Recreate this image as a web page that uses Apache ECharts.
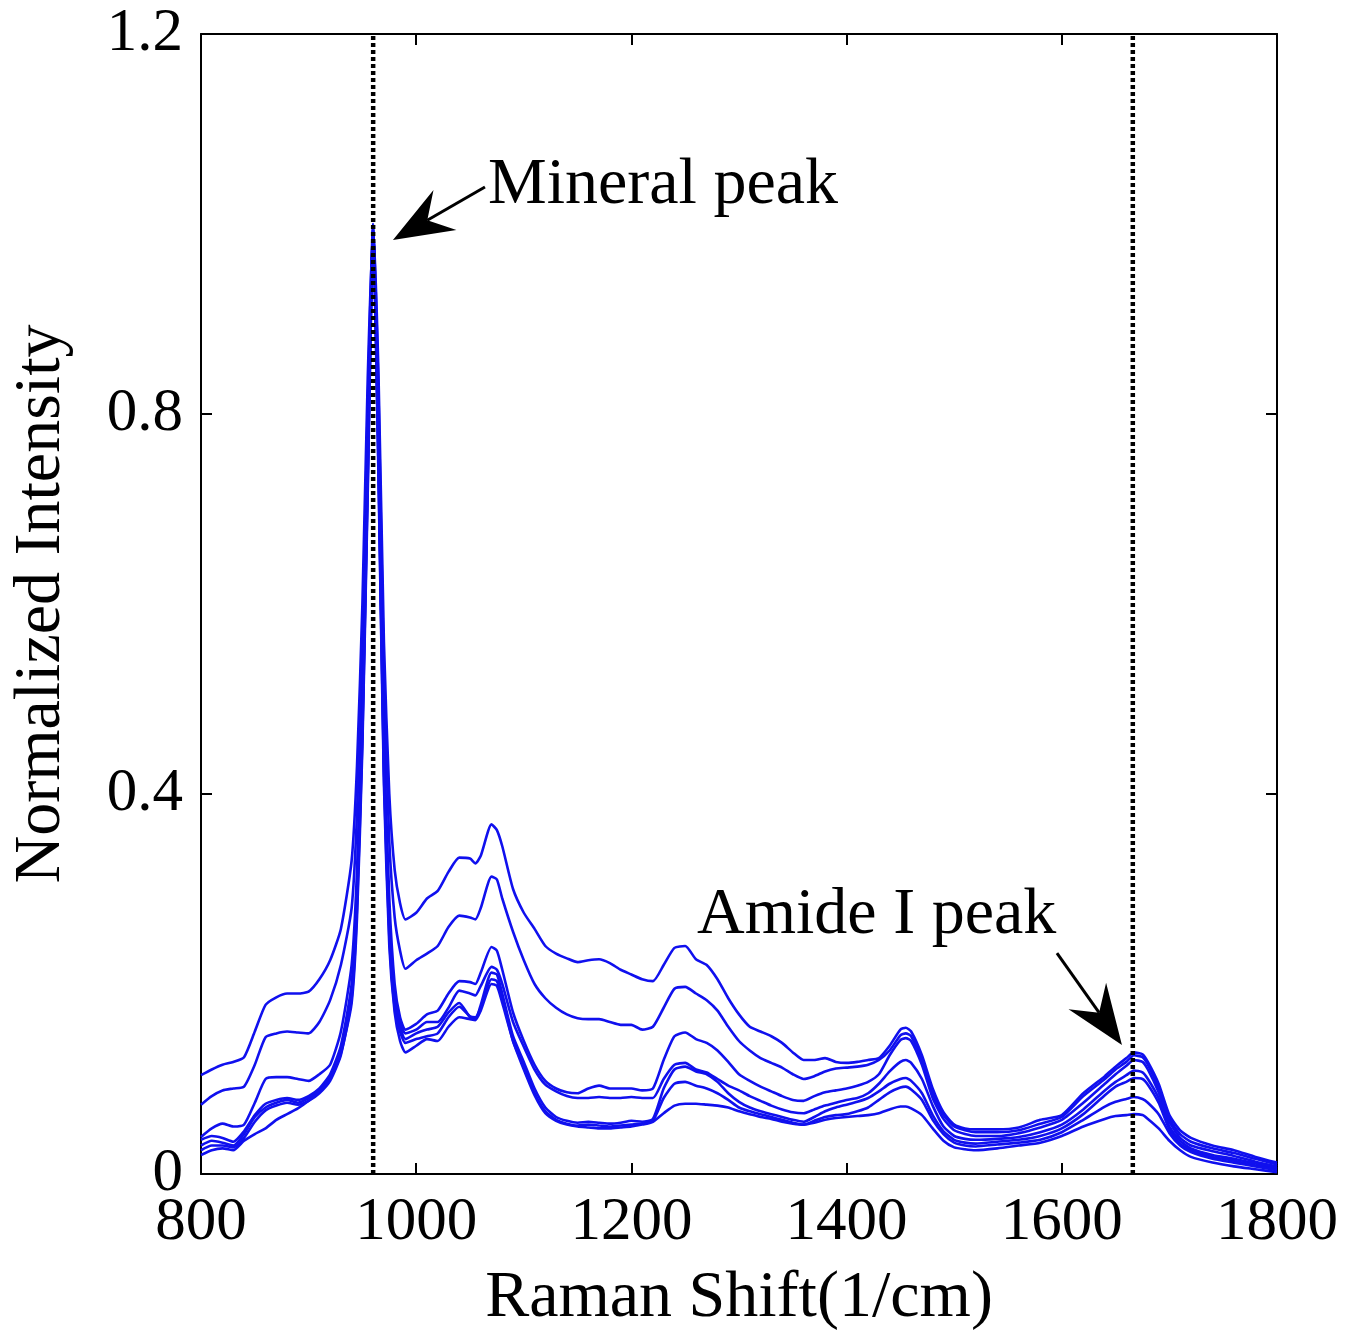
<!DOCTYPE html>
<html>
<head>
<meta charset="utf-8">
<script src="https://cdn.jsdelivr.net/npm/echarts@6/dist/echarts.min.js"></script>
<style>
html,body{margin:0;padding:0;background:#fff;}
#chart{width:1361px;height:1341px;}
</style>
</head>
<body>
<div id="chart"></div>
<script>
// Raman shift grid (1/cm)
const ramanShift = [800,810,820,830,840,850,860,870,880,890,900,910,920,930,940,945,950,955,960,965,970,975,980,985,990,1000,1010,1020,1030,1040,1050,1055,1060,1070,1075,1080,1090,1100,1110,1120,1130,1140,1150,1160,1170,1180,1190,1200,1210,1220,1230,1240,1250,1260,1270,1280,1290,1300,1310,1320,1330,1340,1350,1360,1370,1380,1390,1400,1410,1420,1430,1440,1450,1455,1460,1470,1480,1490,1500,1510,1520,1540,1560,1580,1600,1620,1640,1650,1660,1667,1675,1680,1690,1700,1710,1720,1740,1760,1780,1800];

const spectrum1 = [
0.104,0.110,0.115,0.118,0.123,0.150,0.178,0.186,0.190,0.190,0.192,0.205,0.225,0.258,0.330,
0.430,0.600,0.840,1.000,0.840,0.560,0.400,0.320,0.285,0.268,
0.275,0.290,0.298,0.318,0.333,0.332,
0.327,
0.335,0.368,
0.362,
0.345,0.300,0.275,0.258,0.240,0.232,0.227,0.223,0.225,0.226,
0.222,0.215,0.210,0.205,0.203,0.220,0.238,0.240,0.226,0.220,
0.205,0.185,0.168,0.155,0.150,0.145,0.138,0.128,0.120,0.120,
0.122,0.118,0.117,0.118,0.120,0.122,0.135,0.152,
0.154,
0.150,0.125,0.090,0.065,0.052,0.048,0.047,
0.047,0.049,0.057,0.062,0.085,0.103,
0.113,0.122,
0.128,
0.126,
0.118,0.095,0.062,0.046,0.038,
0.030,0.025,0.018,0.012];

const spectrum2 = [
0.073,0.082,0.088,0.090,0.092,0.115,0.144,0.148,0.150,0.149,0.148,0.160,0.183,0.220,0.280,
0.380,0.560,0.810,1.000,0.820,0.520,0.350,0.270,0.235,0.216,
0.225,0.232,0.240,0.260,0.272,0.270,
0.268,
0.280,0.313,
0.310,
0.290,0.255,0.225,0.200,0.185,0.175,0.168,0.164,0.163,0.163,
0.160,0.157,0.157,0.152,0.155,0.175,0.195,0.197,0.190,0.183,
0.172,0.155,0.140,0.130,0.122,0.117,0.112,0.105,0.100,0.103,
0.108,0.111,0.112,0.113,0.115,0.120,0.130,0.146,
0.148,
0.145,0.120,0.085,0.062,0.050,0.046,0.044,
0.044,0.046,0.053,0.060,0.082,0.100,
0.110,0.118,
0.125,
0.123,
0.115,0.090,0.058,0.042,0.034,
0.027,0.022,0.016,0.010];

const spectrum3 = [
0.039,0.048,0.053,0.050,0.052,0.075,0.100,0.102,0.102,0.100,0.098,0.105,0.115,0.150,0.220,
0.320,0.500,0.770,0.995,0.780,0.460,0.290,0.200,0.165,0.152,
0.158,0.168,0.172,0.190,0.203,0.202,
0.200,
0.212,0.239,
0.235,
0.215,0.170,0.140,0.115,0.098,0.090,0.086,0.085,0.090,0.093,
0.090,0.090,0.090,0.088,0.090,0.120,0.145,0.149,0.142,0.138,
0.130,0.118,0.105,0.098,0.092,0.087,0.082,0.078,0.077,0.082,
0.086,0.088,0.090,0.093,0.097,0.105,0.125,0.141,
0.143,
0.140,0.115,0.080,0.058,0.046,0.042,0.040,
0.040,0.043,0.049,0.057,0.075,0.095,
0.105,0.114,
0.120,
0.118,
0.110,0.086,0.055,0.038,0.030,
0.024,0.019,0.013,0.008];

const spectrum4 = [
0.036,0.040,0.038,0.034,0.045,0.062,0.074,0.078,0.080,0.078,0.082,0.090,0.105,0.135,0.200,
0.300,0.480,0.750,0.995,0.760,0.440,0.270,0.190,0.160,0.148,
0.152,0.160,0.160,0.175,0.193,0.190,
0.188,
0.198,0.218,
0.215,
0.200,0.160,0.134,0.110,0.094,0.087,0.082,0.080,0.080,0.081,
0.080,0.080,0.081,0.080,0.080,0.100,0.115,0.117,0.110,0.107,
0.100,0.093,0.088,0.082,0.077,0.072,0.068,0.065,0.064,0.068,
0.072,0.075,0.078,0.080,0.085,0.095,0.108,0.118,
0.120,
0.117,0.100,0.072,0.050,0.040,0.037,0.036,
0.037,0.039,0.044,0.052,0.068,0.088,
0.097,0.104,
0.109,
0.107,
0.100,0.080,0.050,0.035,0.027,
0.020,0.016,0.011,0.006];

const spectrum5 = [
0.030,0.035,0.033,0.030,0.042,0.060,0.070,0.075,0.078,0.075,0.080,0.088,0.102,0.130,0.190,
0.290,0.470,0.740,0.990,0.750,0.430,0.260,0.180,0.155,0.142,
0.148,0.152,0.155,0.170,0.180,0.165,
0.163,
0.178,0.212,
0.210,
0.190,0.145,0.118,0.090,0.070,0.060,0.056,0.054,0.055,0.054,
0.053,0.054,0.056,0.055,0.058,0.090,0.110,0.113,0.108,0.105,
0.097,0.085,0.076,0.070,0.066,0.063,0.060,0.057,0.055,0.060,
0.066,0.070,0.073,0.076,0.080,0.087,0.095,0.100,
0.101,
0.098,0.085,0.062,0.045,0.036,0.033,0.032,
0.034,0.036,0.040,0.048,0.063,0.083,
0.092,0.097,
0.101,
0.100,
0.094,0.075,0.047,0.032,0.025,
0.018,0.014,0.009,0.005];

const spectrum6 = [
0.025,0.030,0.030,0.028,0.038,0.055,0.067,0.072,0.075,0.073,0.077,0.085,0.098,0.125,0.185,
0.280,0.460,0.730,0.990,0.740,0.420,0.250,0.175,0.150,0.138,
0.142,0.145,0.148,0.165,0.176,0.166,
0.165,
0.175,0.205,
0.203,
0.185,0.140,0.113,0.085,0.066,0.057,0.053,0.051,0.052,0.051,
0.050,0.051,0.052,0.053,0.056,0.080,0.095,0.097,0.093,0.090,
0.085,0.078,0.070,0.066,0.063,0.060,0.057,0.054,0.052,0.056,
0.060,0.062,0.063,0.066,0.070,0.078,0.086,0.091,
0.092,
0.089,0.078,0.057,0.042,0.033,0.030,0.029,
0.031,0.033,0.036,0.044,0.057,0.071,
0.076,0.079,
0.081,
0.079,
0.075,0.063,0.043,0.030,0.023,
0.016,0.012,0.008,0.004];

const spectrum7 = [
0.020,0.025,0.027,0.025,0.035,0.042,0.048,0.057,0.063,0.069,0.077,0.087,0.100,0.127,0.180,
0.270,0.450,0.720,0.990,0.730,0.410,0.240,0.170,0.140,0.128,
0.135,0.142,0.140,0.155,0.165,0.163,
0.162,
0.172,0.200,
0.198,
0.180,0.140,0.110,0.083,0.064,0.056,0.052,0.050,0.049,0.048,
0.048,0.049,0.050,0.052,0.055,0.064,0.072,0.074,0.074,0.073,
0.072,0.070,0.066,0.063,0.060,0.058,0.055,0.053,0.052,0.054,
0.057,0.059,0.060,0.061,0.062,0.064,0.068,0.071,
0.071,
0.069,0.062,0.048,0.035,0.028,0.026,0.025,
0.027,0.030,0.033,0.040,0.050,0.058,
0.061,0.062,
0.063,
0.062,
0.058,0.048,0.035,0.025,0.018,
0.012,0.008,0.005,0.002];

const spectra = [spectrum1, spectrum2, spectrum3, spectrum4, spectrum5, spectrum6, spectrum7];

// Reference peak positions (dotted lines)
const peakMarkers = [960, 1666];

// X and Y ticks
const xTicks = {min: 800, max: 1800, interval: 200};
const yTicks = {min: 0, max: 1.2, interval: 0.4};

// Annotations (data coordinates)
const annotationTexts = ['Mineral peak', 'Amide I peak'];
const annotationTextAt = [[1066.7, 1.040], [1261, 0.2716]];
const arrowTails = [[1063.9, 1.0389], [1595.5, 0.2326]];
const arrowTips = [[978.4, 0.9832], [1655.9, 0.1358]];

const SERIF = '"Liberation Serif", "Times New Roman", serif';
const BLUE = '#1010ee';

const chart = echarts.init(document.getElementById('chart'), null, {renderer: 'canvas'});

const series = spectra.map((s, k) => ({
  type: 'line',
  name: 'spectrum' + (k + 1),
  data: ramanShift.map((x, i) => [x, s[i]]),
  symbol: 'none',
  smooth: 0.2,
  lineStyle: {color: BLUE, width: 2.6},
  z: 2,
  silent: true
}));

peakMarkers.forEach(m => {
  series.push({
    type: 'line',
    data: [[m, yTicks.min], [m, yTicks.max]],
    symbol: 'none',
    lineStyle: {color: '#000', width: 4.5, type: [4, 3]},
    z: 5,
    silent: true
  });
});

const axisCommon = {
  type: 'value',
  axisLine: {show: true, onZero: false, lineStyle: {color: '#000', width: 2}},
  axisTick: {show: true, inside: true, length: 11, lineStyle: {color: '#000', width: 2}},
  splitLine: {show: false}
};

chart.setOption({
  animation: false,
  backgroundColor: '#fff',
  grid: {left: 201, right: 84, top: 34, bottom: 167, containLabel: false},
  xAxis: [
    Object.assign({}, axisCommon, {
      position: 'bottom', min: xTicks.min, max: xTicks.max, interval: xTicks.interval,
      axisLabel: {fontFamily: SERIF, fontSize: 61, color: '#000', margin: 18, formatter: v => String(v)},
      name: 'Raman Shift(1/cm)', nameLocation: 'middle', nameGap: 92,
      nameTextStyle: {fontFamily: SERIF, fontSize: 66, color: '#000'}
    }),
    Object.assign({}, axisCommon, {
      position: 'top', min: xTicks.min, max: xTicks.max, interval: xTicks.interval,
      axisLabel: {show: false}
    })
  ],
  yAxis: [
    Object.assign({}, axisCommon, {
      position: 'left', min: yTicks.min, max: yTicks.max, interval: yTicks.interval,
      axisLabel: {fontFamily: SERIF, fontSize: 61, color: '#000', margin: 18, formatter: v => String(+v.toFixed(1))},
      name: 'Normalized Intensity', nameLocation: 'middle', nameGap: 126, nameRotate: 90,
      nameTextStyle: {fontFamily: SERIF, fontSize: 66, color: '#000'}
    }),
    Object.assign({}, axisCommon, {
      position: 'right', min: yTicks.min, max: yTicks.max, interval: yTicks.interval,
      axisLabel: {show: false}
    })
  ],
  series: series
});

function px(pt) { return chart.convertToPixel({xAxisIndex: 0, yAxisIndex: 0}, pt); }

const graphics = [];
annotationTexts.forEach((t, i) => {
  const p = px(annotationTextAt[i]);
  graphics.push({
    type: 'text', x: p[0], y: p[1], z: 10,
    style: {text: t, font: '66px ' + SERIF, fill: '#000', textAlign: 'left', textVerticalAlign: 'middle'}
  });
  const a = px(arrowTails[i]);
  const b = px(arrowTips[i]);
  const dx = b[0] - a[0], dy = b[1] - a[1];
  const len = Math.sqrt(dx * dx + dy * dy);
  const ux = dx / len, uy = dy / len;
  const nx = -uy, ny = ux;
  const L = 60, W = 46, N = 0.66 * L;
  const c1 = [b[0] - L * ux + W / 2 * nx, b[1] - L * uy + W / 2 * ny];
  const c2 = [b[0] - L * ux - W / 2 * nx, b[1] - L * uy - W / 2 * ny];
  const nt = [b[0] - N * ux, b[1] - N * uy];
  graphics.push({
    type: 'line', z: 10,
    shape: {x1: a[0], y1: a[1], x2: nt[0], y2: nt[1]},
    style: {stroke: '#000', lineWidth: 3}
  });
  graphics.push({
    type: 'polygon', z: 10,
    shape: {points: [b, c1, nt, c2]},
    style: {fill: '#000'}
  });
});
chart.setOption({graphic: graphics});
</script>
</body>
</html>
